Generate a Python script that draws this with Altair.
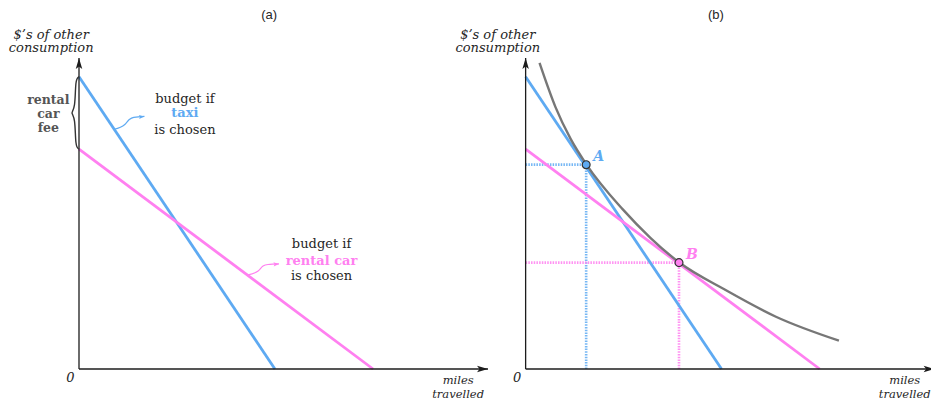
import altair as alt
import pandas as pd

# ---------------- data (arbitrary units: each panel's origin is (0,0), axes run to 10) -------------
taxi_x = [0.0, 4.79]
taxi_y = [9.40, 0.0]
rental_x = [0.0, 7.19]
rental_y = [7.07, 0.0]

# indifference curve in panel (b)
curve_x = [0.34, 0.73, 1.10, 1.48, 2.37, 3.05, 3.75, 4.90, 6.12, 7.66]
curve_y = [9.84, 8.42, 7.40, 6.59, 5.14, 4.22, 3.43, 2.53, 1.68, 0.91]

point_names = ["A", "B"]
point_series = ["taxi", "rental"]
point_x = [1.48, 3.75]
point_y = [6.57, 3.42]

panel_titles = ["(a)", "(b)"]
y_title = ["$\u2019s of other", "consumption"]
x_title = ["miles", "travelled"]
fee_label = ["rental", "car", "fee"]
taxi_label = ["budget if", "taxi", "is chosen"]
rental_label = ["budget if", "rental car", "is chosen"]

# annotation squiggles (arrows from text to line)
taxi_arrow_x = [0.86, 1.12, 1.23, 1.34, 1.60]
taxi_arrow_y = [7.71, 7.86, 8.02, 8.09, 8.12]
rental_arrow_x = [4.11, 4.38, 4.50, 4.62, 4.89]
rental_arrow_y = [3.02, 3.15, 3.31, 3.36, 3.38]

# brace showing the rental car fee (between the two intercepts)
brace_x = [0.0, -0.09, -0.09, -0.21, -0.09, -0.09, 0.0]
brace_y = [9.40, 9.33, 8.36, 8.235, 8.11, 7.14, 7.07]

# ---------------- layout ----------------
W, H = 923, 392
XMIN, XMAX = -71 / 40.9, (W - 71) / 40.9
YMIN, YMAX = (361 - H) / 31.1, 361 / 31.1
SHIFT = {"a": 0.0, "b": 10.92}
BLUE, PINK, GRAY, INK = "#5eaaf2", "#ff80f0", "#777777", "#1c1c1c"
TXT = "#262626"
SERIF = "DejaVu Serif"

xs = alt.Scale(domain=[XMIN, XMAX], nice=False, zero=False)
ys = alt.Scale(domain=[YMIN, YMAX], nice=False, zero=False)
X = alt.X("gx:Q", scale=xs, axis=None)
Y = alt.Y("y:Q", scale=ys, axis=None)
col = alt.Color("series:N", scale=alt.Scale(domain=["taxi", "rental"], range=[BLUE, PINK]), legend=None)


def g(df):
    df = df.copy()
    df["gx"] = df["x"] + df["panel"].map(SHIFT)
    if "x2" in df:
        df["gx2"] = df["x2"] + df["panel"].map(SHIFT)
    return df


rows = []
for p in ["a", "b"]:
    for i, (x, y) in enumerate(zip(taxi_x, taxi_y)):
        rows.append(dict(panel=p, series="taxi", i=i, x=x, y=y))
    for i, (x, y) in enumerate(zip(rental_x, rental_y)):
        rows.append(dict(panel=p, series="rental", i=i, x=x, y=y))
lines_df = g(pd.DataFrame(rows))

axes_df = g(pd.DataFrame([dict(panel=p, x=0, x2=0, y=0, y2=10) for p in "ab"] +
                         [dict(panel=p, x=0, x2=10, y=0, y2=0) for p in "ab"]))
up_df = g(pd.DataFrame([dict(panel=p, x=0, y=10) for p in "ab"]))
right_df = g(pd.DataFrame([dict(panel=p, x=10, y=0) for p in "ab"]))

curve_df = g(pd.DataFrame(dict(panel="b", i=range(len(curve_x)), x=curve_x, y=curve_y)))

pts_df = g(pd.DataFrame(dict(panel="b", name=point_names, series=point_series, x=point_x, y=point_y)))
guide_rows = []
for n, s, x, y in zip(point_names, point_series, point_x, point_y):
    guide_rows.append(dict(panel="b", series=s, x=0, x2=x, y=y, y2=y))
    guide_rows.append(dict(panel="b", series=s, x=x, x2=x, y=0, y2=y))
guide_df = g(pd.DataFrame(guide_rows))

arrow_rows = []
for i, (x, y) in enumerate(zip(taxi_arrow_x, taxi_arrow_y)):
    arrow_rows.append(dict(panel="a", series="taxi", i=i, x=x, y=y))
for i, (x, y) in enumerate(zip(rental_arrow_x, rental_arrow_y)):
    arrow_rows.append(dict(panel="a", series="rental", i=i, x=x, y=y))
arrow_df = g(pd.DataFrame(arrow_rows))
arrow_tip_df = g(pd.DataFrame([
    dict(panel="a", series="taxi", x=taxi_arrow_x[-1], y=taxi_arrow_y[-1]),
    dict(panel="a", series="rental", x=rental_arrow_x[-1], y=rental_arrow_y[-1]),
]))

brace_df = g(pd.DataFrame(dict(panel="a", i=range(len(brace_x)), x=brace_x, y=brace_y)))

# text tables
ytitle_df = g(pd.DataFrame([dict(panel=p, x=-0.68, y=yy, text=t)
                            for p in "ab" for t, yy in zip(y_title, [10.61, 10.18])]))
xtitle_df = g(pd.DataFrame([dict(panel=p, x=9.27, y=yy, text=t)
                            for p in "ab" for t, yy in zip(x_title, [-0.49, -0.93])]))
zero_df = g(pd.DataFrame([dict(panel=p, x=-0.21, y=-0.42, text="0") for p in "ab"]))
ptitle_df = g(pd.DataFrame([dict(panel=p, x=4.65, y=11.38, text=t) for p, t in zip("ab", panel_titles)]))
fee_df = g(pd.DataFrame([dict(panel="a", x=-0.75, y=yy, text=t)
                         for t, yy in zip(fee_label, [8.52, 8.06, 7.63])]))
plain_df = g(pd.DataFrame(
    [dict(panel="a", x=2.59, y=yy, text=t) for t, yy in zip([taxi_label[0], taxi_label[2]], [8.54, 7.56])] +
    [dict(panel="a", x=5.93, y=yy, text=t) for t, yy in zip([rental_label[0], rental_label[2]], [3.88, 2.86])]))
strong_df = g(pd.DataFrame([dict(panel="a", series="taxi", x=2.59, y=8.09, text=taxi_label[1]),
                            dict(panel="a", series="rental", x=5.93, y=3.34, text=rental_label[1])]))

# ---------------- layers ----------------
axes = alt.Chart(axes_df).mark_rule(color=INK, strokeWidth=1.3).encode(
    x=X, x2="gx2:Q", y=Y, y2="y2:Q")
up = alt.Chart(up_df).mark_point(shape="M0,0 L0.65,2.2 L0,1.7 L-0.65,2.2 Z", size=100,
                                 filled=True, color=INK, opacity=1).encode(x=X, y=Y)
right = alt.Chart(right_df).mark_point(shape="M0,0 L-2.2,0.65 L-1.7,0 L-2.2,-0.65 Z", size=100,
                                       filled=True, color=INK, opacity=1).encode(x=X, y=Y)

guides = alt.Chart(guide_df).mark_rule(strokeWidth=2.6, strokeDash=[1.5, 1.2], opacity=0.85).encode(
    x=X, x2="gx2:Q", y=Y, y2="y2:Q", color=col)

budget = alt.Chart(lines_df).mark_line(strokeWidth=2.8).encode(
    x=X, y=Y, color=col, detail="panel:N", order="i:Q")

curve = alt.Chart(curve_df).mark_line(strokeWidth=2.4, color=GRAY, interpolate="monotone").encode(
    x=X, y=Y, order="i:Q")

pts = alt.Chart(pts_df).mark_circle(size=62, stroke="#333333", strokeWidth=1.2, opacity=1).encode(
    x=X, y=Y, color=col)
pt_labels = alt.Chart(pts_df).mark_text(font=SERIF, fontSize=14, fontStyle="italic", fontWeight="bold",
                                        align="left", baseline="alphabetic", dx=7, dy=-4).encode(
    x=X, y=Y, color=col, text="name:N")

arrows = alt.Chart(arrow_df).mark_line(strokeWidth=1.2, interpolate="monotone").encode(
    x=X, y=Y, color=col, detail="series:N", order="i:Q")
arrow_tips = alt.Chart(arrow_tip_df).mark_point(shape="M0,0 L-2,0.75 L-1.6,0 L-2,-0.75 Z", size=30,
                                                filled=True, opacity=1, angle=355).encode(
    x=X, y=Y, color=col)

brace = alt.Chart(brace_df).mark_line(strokeWidth=1.4, color="#333333", interpolate="basis").encode(
    x=X, y=Y, order="i:Q")

ytitle = alt.Chart(ytitle_df).mark_text(font=SERIF, fontSize=13, fontStyle="italic", color=TXT,
                                        align="center", baseline="alphabetic").encode(x=X, y=Y, text="text:N")
xtitle = alt.Chart(xtitle_df).mark_text(font=SERIF, fontSize=11.5, fontStyle="italic", color=TXT,
                                        align="center", baseline="alphabetic").encode(x=X, y=Y, text="text:N")
zero = alt.Chart(zero_df).mark_text(font=SERIF, fontSize=13, fontStyle="italic", color=TXT,
                                    align="center", baseline="alphabetic").encode(x=X, y=Y, text="text:N")
ptitle = alt.Chart(ptitle_df).mark_text(font="Liberation Sans", fontSize=13, color=TXT,
                                        align="center", baseline="middle").encode(x=X, y=Y, text="text:N")
fee = alt.Chart(fee_df).mark_text(font=SERIF, fontSize=12.5, fontWeight="bold", color="#555555",
                                  align="center", baseline="alphabetic").encode(x=X, y=Y, text="text:N")
plain = alt.Chart(plain_df).mark_text(font=SERIF, fontSize=13, color=TXT,
                                      align="center", baseline="alphabetic").encode(x=X, y=Y, text="text:N")
strong = alt.Chart(strong_df).mark_text(font=SERIF, fontSize=13, fontWeight="bold",
                                        align="center", baseline="alphabetic").encode(
    x=X, y=Y, text="text:N", color=col)

chart = alt.layer(
    guides, budget, curve, axes, up, right, pts, pt_labels, arrows, arrow_tips, brace,
    ytitle, xtitle, zero, ptitle, fee, plain, strong,
).properties(
    width=W, height=H,
    autosize=alt.AutoSizeParams(type="none"),
    padding=0,
).configure_view(stroke=None)

chart.save("out.html", embed_options={"renderer": "svg", "actions": False})
